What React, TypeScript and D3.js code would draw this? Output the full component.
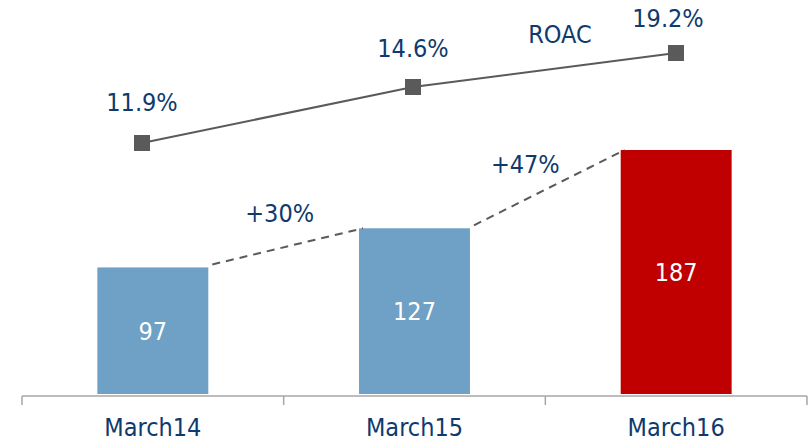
import React from "react";
import * as d3 from "d3";

const categories = ["March14", "March15", "March16"];
const values = [97, 127, 187];
const roac = [11.9, 14.6, 19.2];
const roacLabels = ["11.9%", "14.6%", "19.2%"];
const growthLabels = ["+30%", "+47%"];
const barColors = ["#6fa0c5", "#6fa0c5", "#c00000"];

const W = 808;
const H = 442;
const NAVY = "#0e3a6d";
const GRAY = "#5a5a5a";
const FONT = "'DejaVu Sans Condensed', 'DejaVu Sans', sans-serif";
const FS = 25;

export default function App() {
  const x = d3.scaleBand<string>().domain(categories).range([22, 807]).paddingInner(0.576).paddingOuter(0.288);
  const y = d3.scaleLinear().domain([0, 187]).range([394, 150]);
  // ROAC line uses its own scales
  const lx = d3.scaleLinear().domain([0, 1, 2]).range([142, 413, 676]);
  const ly = d3.scaleLinear().domain([11.9, 14.6, 19.2]).range([143, 87, 53]);
  const line = d3.line<number>().x((_, i) => lx(i)).y((d) => ly(d));
  const bw = x.bandwidth();
  const ticks = [22, ...categories.map((c) => (x(c) as number) + bw + (x.step() - bw) / 2)];
  const labelDx = [0, 0, -8];
  const labelDy = [-41, -39, -35];
  const growthDx = [-4, -20];
  const growthDy = [-33, -24];

  return (
    <svg width={W} height={H} style={{ position: "absolute", left: 0, top: 0, background: "#fff" }} fontFamily={FONT}>
      {/* axis */}
      <line x1={22} x2={807} y1={396} y2={396} stroke="#a6a6a6" strokeWidth={1.5} />
      {ticks.map((t, i) => (
        <line key={i} x1={t} x2={t} y1={396} y2={405} stroke="#a6a6a6" strokeWidth={1.5} />
      ))}
      {/* bars */}
      {values.map((v, i) => (
        <rect key={i} x={x(categories[i])} y={y(v)} width={bw} height={y(0) - y(v)} fill={barColors[i]} />
      ))}
      {values.map((v, i) => (
        <text key={i} x={(x(categories[i]) as number) + bw / 2} y={(y(v) + y(0)) / 2 + 9} textAnchor="middle" fill="#fff" fontSize={FS}>
          {v}
        </text>
      ))}
      {/* category labels */}
      {categories.map((c) => (
        <text key={c} x={(x(c) as number) + bw / 2} y={436} textAnchor="middle" fill={NAVY} fontSize={FS}>
          {c}
        </text>
      ))}
      {/* growth dashed lines */}
      {growthLabels.map((g, i) => {
        const x1 = (x(categories[i]) as number) + bw;
        const y1 = y(values[i]) - 3;
        const x2 = x(categories[i + 1]) as number;
        const y2 = y(values[i + 1]);
        return (
          <g key={g}>
            <line x1={x1 + 4} y1={y1} x2={x2 + 4} y2={y2} stroke={GRAY} strokeWidth={2} strokeDasharray="8,6" />
            <text x={(x1 + x2) / 2 + growthDx[i]} y={(y1 + y2) / 2 + growthDy[i] + 9} textAnchor="middle" fill={NAVY} fontSize={FS}>
              {g}
            </text>
          </g>
        );
      })}
      {/* ROAC line */}
      <path d={line(roac) || ""} fill="none" stroke={GRAY} strokeWidth={2} />
      {roac.map((r, i) => (
        <rect key={i} x={lx(i) - 8} y={ly(r) - 8} width={16} height={16} fill={GRAY} />
      ))}
      {roac.map((r, i) => (
        <text key={i} x={lx(i) + labelDx[i]} y={ly(r) + labelDy[i] + 9} textAnchor="middle" fill={NAVY} fontSize={FS}>
          {roacLabels[i]}
        </text>
      ))}
      <text x={560} y={43} textAnchor="middle" fill={NAVY} fontSize={FS}>
        ROAC
      </text>
    </svg>
  );
}
